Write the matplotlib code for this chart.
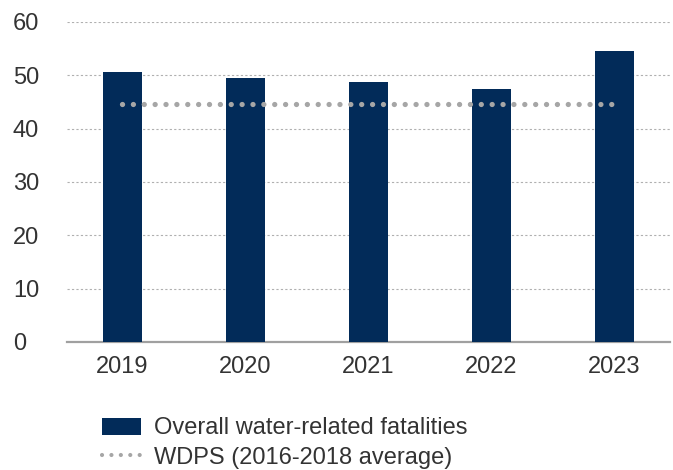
import matplotlib
matplotlib.use("Agg")
import matplotlib.pyplot as plt
from matplotlib.patches import Patch
from matplotlib.lines import Line2D

plt.rcParams["font.family"] = ["Liberation Sans", "DejaVu Sans"]

# Data
years = ["2019", "2020", "2021", "2022", "2023"]
fatalities = [50.6, 49.5, 48.7, 47.5, 54.6]
wdps_avg = 44.7

BAR_COLOR = "#022b59"
LINE_COLOR = "#a6a6a6"
TEXT_COLOR = "#333333"
FS = 17

fig = plt.figure(figsize=(6.73, 4.70), dpi=100)
ax = fig.add_axes([67 / 673, 1 - 342 / 470, (670 - 67) / 673, (342 - 22) / 470])

x = range(len(years))
ax.bar(x, fatalities, width=0.32, color=BAR_COLOR, zorder=3)
ax.plot([0, len(years) - 1], [wdps_avg] * 2, color=LINE_COLOR, linewidth=3.8,
        linestyle=(0, (0.01, 2.05)), dash_capstyle="round", zorder=4)

ax.set_xlim(-0.45, len(years) - 1 + 0.45)
ax.set_ylim(0, 60)
ax.set_yticks(range(0, 61, 10))
ax.set_xticks(list(x))
ax.set_xticklabels(years)

ax.yaxis.grid(True, linestyle=(0, (2, 2)), linewidth=0.8, color="#b0b0b0", zorder=0)
for s in ["top", "right", "left"]:
    ax.spines[s].set_visible(False)
ax.spines["bottom"].set_color("#a0a0a0")
ax.spines["bottom"].set_linewidth(1.6)
ax.tick_params(axis="both", length=0, labelsize=FS, colors=TEXT_COLOR)
ax.tick_params(axis="x", pad=10)
ax.tick_params(axis="y", pad=39)
for lab in ax.get_yticklabels():
    lab.set_horizontalalignment("left")

handles = [
    Patch(facecolor=BAR_COLOR, label="Overall water-related fatalities"),
    Line2D([], [], color=LINE_COLOR, linewidth=3.0, linestyle=(0, (0.01, 2.25)),
           dash_capstyle="round", label="WDPS (2016-2018 average)"),
]
leg = fig.legend(handles=handles, loc="upper left", bbox_to_anchor=(93 / 673, 1 - 408 / 470),
                 frameon=False, fontsize=FS, handlelength=1.65, handleheight=0.74,
                 labelspacing=0.3, handletextpad=0.55, borderaxespad=0)
for t in leg.get_texts():
    t.set_color(TEXT_COLOR)

fig.savefig("out.png", dpi=100)
